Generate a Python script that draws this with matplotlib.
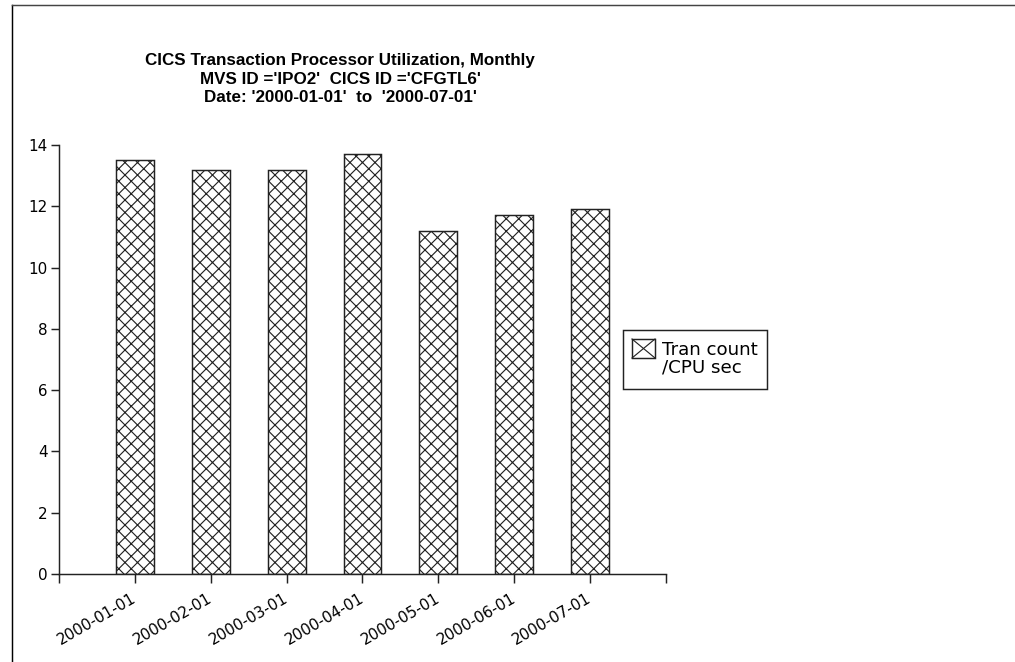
import matplotlib
matplotlib.use('Agg')
import matplotlib.pyplot as plt
from matplotlib.lines import Line2D
from matplotlib.patches import Rectangle

# ============ data ============
months = ['2000-01-01', '2000-02-01', '2000-03-01', '2000-04-01',
          '2000-05-01', '2000-06-01', '2000-07-01']
tran_per_cpu = [13.5, 13.2, 13.2, 13.7, 11.2, 11.7, 11.9]
yticks = [0, 2, 4, 6, 8, 10, 12, 14]

title_lines = ["CICS Transaction Processor Utilization, Monthly",
               "MVS ID ='IPO2'  CICS ID ='CFGTL6'",
               "Date: '2000-01-01'  to  '2000-07-01'"]
legend_label = "Tran count\n/CPU sec"

plt.rcParams['hatch.linewidth'] = 1.1
plt.rcParams['font.family'] = ['DejaVu Sans']

W, H = 1015, 662
dpi = 75
fig = plt.figure(figsize=(W / dpi, H / dpi), dpi=dpi)
ax = fig.add_axes([59 / W, 1 - 574 / H, (666 - 59) / W, (574 - 145) / H])

x = list(range(len(months)))
ax.bar(x, tran_per_cpu, width=0.5, color='white', edgecolor='#222222',
       linewidth=1.4, hatch='xx', zorder=2)

ax.set_xlim(-1, len(months))
ax.set_ylim(0, 14)
ax.set_xticks(list(range(-1, len(months) + 1)))
ax.set_xticklabels([''] + months + [''], rotation=30, ha='right', va='center',
                   rotation_mode='anchor', fontsize=14.5)
ax.set_yticks(yticks)
ax.set_yticklabels([str(v) for v in yticks], fontsize=14.5)

for s in ['top', 'right']:
    ax.spines[s].set_visible(False)
for s in ['left', 'bottom']:
    ax.spines[s].set_linewidth(1.4)
    ax.spines[s].set_color('#222222')
ax.tick_params(axis='x', length=9, width=1.4, color='#222222', pad=13)
ax.tick_params(axis='y', length=8, width=1.4, color='#222222', pad=3)

# titles
for line, yy in zip(title_lines, [60, 79, 98]):
    fig.text(340 / W, 1 - yy / H, line, ha='center', va='center',
             fontsize=16.3, fontweight='bold', family='Liberation Sans')

# legend box drawn in figure pixels
fig.add_artist(Rectangle((623 / W, 1 - 389 / H), 144 / W, 59 / H,
                         transform=fig.transFigure, facecolor='white',
                         edgecolor='#222222', linewidth=1.4))
px0, py0, pw, ph = 632, 339, 23, 19
fig.add_artist(Rectangle((px0 / W, 1 - (py0 + ph) / H), pw / W, ph / H,
                         transform=fig.transFigure, facecolor='white',
                         edgecolor='#222222', linewidth=1.4))
fig.add_artist(Line2D([px0 / W, (px0 + pw) / W], [1 - py0 / H, 1 - (py0 + ph) / H],
                      color='#222222', linewidth=1.1, transform=fig.transFigure))
fig.add_artist(Line2D([px0 / W, (px0 + pw) / W], [1 - (py0 + ph) / H, 1 - py0 / H],
                      color='#222222', linewidth=1.1, transform=fig.transFigure))
fig.text(662 / W, 1 - 359 / H, legend_label, ha='left', va='center',
         fontsize=17.5, linespacing=1.0)

# outer frame (left and top edges)
fig.add_artist(Line2D([12 / W, 12 / W], [0, 1 - 5 / H], color='black',
                      linewidth=1.4, transform=fig.transFigure))
fig.add_artist(Line2D([12 / W, 1], [1 - 5 / H, 1 - 5 / H], color='#444444',
                      linewidth=1.4, transform=fig.transFigure))

fig.savefig('out.png', dpi=dpi)
